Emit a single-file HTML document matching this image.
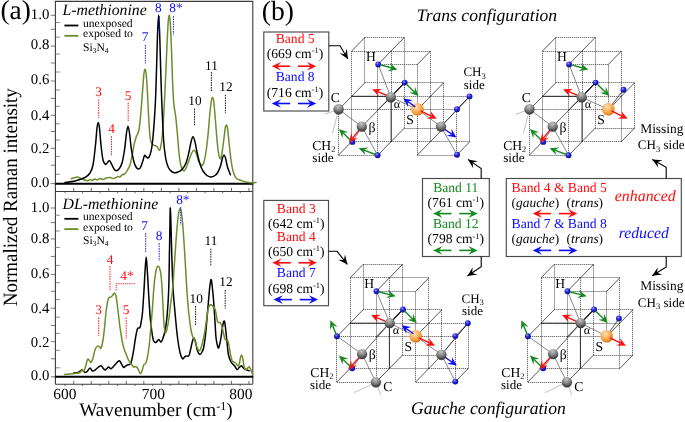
<!DOCTYPE html>
<html><head><meta charset="utf-8"><title>figure</title>
<style>
html,body{margin:0;padding:0;background:#fff;}
body{width:685px;height:422px;overflow:hidden;font-family:"Liberation Serif",serif;}
svg{display:block;font-family:"Liberation Serif",serif;will-change:transform;}
text{text-rendering:geometricPrecision;}
</style></head><body>
<svg width="685" height="422" viewBox="0 0 685 422">
<rect width="685" height="422" fill="#fff"/>
<mask id="mAll"><rect width="685" height="422" fill="#fff"/></mask>
<g mask="url(#mAll)">
<path d="M55.4 384.2 V1.4 H252.8 V384.2" fill="none" stroke="#3a3a3a" stroke-width="1.1"/>
<line x1="55.4" y1="384.2" x2="252.8" y2="384.2" stroke="#3a3a3a" stroke-width="1.1"/>
<line x1="55.4" y1="191.5" x2="252.8" y2="191.5" stroke="#3a3a3a" stroke-width="1"/>
<line x1="54.9" y1="183.75" x2="253.2" y2="183.75" stroke="#000" stroke-width="2"/>
<line x1="54.9" y1="376.8" x2="253.2" y2="376.8" stroke="#000" stroke-width="2"/>
<line x1="50.8" y1="15.3" x2="55.4" y2="15.3" stroke="#555" stroke-width="0.8"/>
<line x1="55.4" y1="22.5" x2="59.8" y2="22.5" stroke="#666" stroke-width="0.8"/>
<line x1="50.8" y1="29.3" x2="55.4" y2="29.3" stroke="#555" stroke-width="0.8"/>
<line x1="55.4" y1="37.1" x2="59.8" y2="37.1" stroke="#666" stroke-width="0.8"/>
<line x1="50.8" y1="46.1" x2="55.4" y2="46.1" stroke="#555" stroke-width="0.8"/>
<line x1="55.4" y1="54" x2="59.8" y2="54" stroke="#666" stroke-width="0.8"/>
<line x1="50.8" y1="63" x2="55.4" y2="63" stroke="#555" stroke-width="0.8"/>
<line x1="55.4" y1="72" x2="59.8" y2="72" stroke="#666" stroke-width="0.8"/>
<line x1="50.8" y1="81" x2="55.4" y2="81" stroke="#555" stroke-width="0.8"/>
<line x1="55.4" y1="90" x2="59.8" y2="90" stroke="#666" stroke-width="0.8"/>
<line x1="50.8" y1="98.4" x2="55.4" y2="98.4" stroke="#555" stroke-width="0.8"/>
<line x1="55.4" y1="106.3" x2="59.8" y2="106.3" stroke="#666" stroke-width="0.8"/>
<line x1="50.8" y1="115.3" x2="55.4" y2="115.3" stroke="#555" stroke-width="0.8"/>
<line x1="55.4" y1="123.8" x2="59.8" y2="123.8" stroke="#666" stroke-width="0.8"/>
<line x1="50.8" y1="131.5" x2="55.4" y2="131.5" stroke="#555" stroke-width="0.8"/>
<line x1="55.4" y1="140" x2="59.8" y2="140" stroke="#666" stroke-width="0.8"/>
<line x1="50.8" y1="148.3" x2="55.4" y2="148.3" stroke="#555" stroke-width="0.8"/>
<line x1="55.4" y1="156.4" x2="59.8" y2="156.4" stroke="#666" stroke-width="0.8"/>
<line x1="50.8" y1="165.2" x2="55.4" y2="165.2" stroke="#555" stroke-width="0.8"/>
<line x1="55.4" y1="174.2" x2="59.8" y2="174.2" stroke="#666" stroke-width="0.8"/>
<line x1="50.8" y1="183.6" x2="55.4" y2="183.6" stroke="#555" stroke-width="0.8"/>
<text x="49.3" y="18.8" font-size="14.8" fill="#000" text-anchor="end">1.0</text>
<text x="49.3" y="48.8" font-size="14.8" fill="#000" text-anchor="end">0.8</text>
<text x="49.3" y="83.8" font-size="14.8" fill="#000" text-anchor="end">0.6</text>
<text x="49.3" y="119.7" font-size="14.8" fill="#000" text-anchor="end">0.4</text>
<text x="49.3" y="153" font-size="14.8" fill="#000" text-anchor="end">0.2</text>
<text x="49.3" y="186.6" font-size="14.8" fill="#000" text-anchor="end">0.0</text>
<line x1="50.8" y1="208" x2="55.4" y2="208" stroke="#555" stroke-width="0.8"/>
<line x1="55.4" y1="215.2" x2="59.8" y2="215.2" stroke="#666" stroke-width="0.8"/>
<line x1="50.8" y1="222.6" x2="55.4" y2="222.6" stroke="#555" stroke-width="0.8"/>
<line x1="55.4" y1="231" x2="59.8" y2="231" stroke="#666" stroke-width="0.8"/>
<line x1="50.8" y1="239" x2="55.4" y2="239" stroke="#555" stroke-width="0.8"/>
<line x1="55.4" y1="247.4" x2="59.8" y2="247.4" stroke="#666" stroke-width="0.8"/>
<line x1="50.8" y1="256.4" x2="55.4" y2="256.4" stroke="#555" stroke-width="0.8"/>
<line x1="55.4" y1="265.4" x2="59.8" y2="265.4" stroke="#666" stroke-width="0.8"/>
<line x1="50.8" y1="274.4" x2="55.4" y2="274.4" stroke="#555" stroke-width="0.8"/>
<line x1="55.4" y1="282.7" x2="59.8" y2="282.7" stroke="#666" stroke-width="0.8"/>
<line x1="50.8" y1="291.3" x2="55.4" y2="291.3" stroke="#555" stroke-width="0.8"/>
<line x1="55.4" y1="299.6" x2="59.8" y2="299.6" stroke="#666" stroke-width="0.8"/>
<line x1="50.8" y1="308.2" x2="55.4" y2="308.2" stroke="#555" stroke-width="0.8"/>
<line x1="55.4" y1="317.2" x2="59.8" y2="317.2" stroke="#666" stroke-width="0.8"/>
<line x1="50.8" y1="325.5" x2="55.4" y2="325.5" stroke="#555" stroke-width="0.8"/>
<line x1="55.4" y1="333.4" x2="59.8" y2="333.4" stroke="#666" stroke-width="0.8"/>
<line x1="50.8" y1="341.7" x2="55.4" y2="341.7" stroke="#555" stroke-width="0.8"/>
<line x1="55.4" y1="350.3" x2="59.8" y2="350.3" stroke="#666" stroke-width="0.8"/>
<line x1="50.8" y1="358.8" x2="55.4" y2="358.8" stroke="#555" stroke-width="0.8"/>
<line x1="55.4" y1="367.8" x2="59.8" y2="367.8" stroke="#666" stroke-width="0.8"/>
<line x1="50.8" y1="376.8" x2="55.4" y2="376.8" stroke="#555" stroke-width="0.8"/>
<text x="49.3" y="212" font-size="14.8" fill="#000" text-anchor="end">1.0</text>
<text x="49.3" y="243.4" font-size="14.8" fill="#000" text-anchor="end">0.8</text>
<text x="49.3" y="278.2" font-size="14.8" fill="#000" text-anchor="end">0.6</text>
<text x="49.3" y="313.1" font-size="14.8" fill="#000" text-anchor="end">0.4</text>
<text x="49.3" y="346.9" font-size="14.8" fill="#000" text-anchor="end">0.2</text>
<text x="49.3" y="380" font-size="14.8" fill="#000" text-anchor="end">0.0</text>
<line x1="65" y1="384.2" x2="65" y2="386" stroke="#444" stroke-width="0.8"/>
<line x1="65" y1="191.5" x2="65" y2="193.3" stroke="#444" stroke-width="0.8"/>
<line x1="73.76" y1="384.2" x2="73.76" y2="381" stroke="#444" stroke-width="0.8"/>
<line x1="73.76" y1="191.5" x2="73.76" y2="187.9" stroke="#444" stroke-width="0.8"/>
<line x1="82.52" y1="384.2" x2="82.52" y2="386" stroke="#444" stroke-width="0.8"/>
<line x1="82.52" y1="191.5" x2="82.52" y2="193.3" stroke="#444" stroke-width="0.8"/>
<line x1="91.28" y1="384.2" x2="91.28" y2="381" stroke="#444" stroke-width="0.8"/>
<line x1="91.28" y1="191.5" x2="91.28" y2="187.9" stroke="#444" stroke-width="0.8"/>
<line x1="100.04" y1="384.2" x2="100.04" y2="386" stroke="#444" stroke-width="0.8"/>
<line x1="100.04" y1="191.5" x2="100.04" y2="193.3" stroke="#444" stroke-width="0.8"/>
<line x1="108.8" y1="384.2" x2="108.8" y2="381" stroke="#444" stroke-width="0.8"/>
<line x1="108.8" y1="191.5" x2="108.8" y2="187.9" stroke="#444" stroke-width="0.8"/>
<line x1="117.56" y1="384.2" x2="117.56" y2="386" stroke="#444" stroke-width="0.8"/>
<line x1="117.56" y1="191.5" x2="117.56" y2="193.3" stroke="#444" stroke-width="0.8"/>
<line x1="126.32" y1="384.2" x2="126.32" y2="381" stroke="#444" stroke-width="0.8"/>
<line x1="126.32" y1="191.5" x2="126.32" y2="187.9" stroke="#444" stroke-width="0.8"/>
<line x1="135.08" y1="384.2" x2="135.08" y2="386" stroke="#444" stroke-width="0.8"/>
<line x1="135.08" y1="191.5" x2="135.08" y2="193.3" stroke="#444" stroke-width="0.8"/>
<line x1="143.84" y1="384.2" x2="143.84" y2="381" stroke="#444" stroke-width="0.8"/>
<line x1="143.84" y1="191.5" x2="143.84" y2="187.9" stroke="#444" stroke-width="0.8"/>
<line x1="152.6" y1="384.2" x2="152.6" y2="386" stroke="#444" stroke-width="0.8"/>
<line x1="152.6" y1="191.5" x2="152.6" y2="193.3" stroke="#444" stroke-width="0.8"/>
<line x1="161.36" y1="384.2" x2="161.36" y2="381" stroke="#444" stroke-width="0.8"/>
<line x1="161.36" y1="191.5" x2="161.36" y2="187.9" stroke="#444" stroke-width="0.8"/>
<line x1="170.12" y1="384.2" x2="170.12" y2="386" stroke="#444" stroke-width="0.8"/>
<line x1="170.12" y1="191.5" x2="170.12" y2="193.3" stroke="#444" stroke-width="0.8"/>
<line x1="178.88" y1="384.2" x2="178.88" y2="381" stroke="#444" stroke-width="0.8"/>
<line x1="178.88" y1="191.5" x2="178.88" y2="187.9" stroke="#444" stroke-width="0.8"/>
<line x1="187.64" y1="384.2" x2="187.64" y2="386" stroke="#444" stroke-width="0.8"/>
<line x1="187.64" y1="191.5" x2="187.64" y2="193.3" stroke="#444" stroke-width="0.8"/>
<line x1="196.4" y1="384.2" x2="196.4" y2="381" stroke="#444" stroke-width="0.8"/>
<line x1="196.4" y1="191.5" x2="196.4" y2="187.9" stroke="#444" stroke-width="0.8"/>
<line x1="205.16" y1="384.2" x2="205.16" y2="386" stroke="#444" stroke-width="0.8"/>
<line x1="205.16" y1="191.5" x2="205.16" y2="193.3" stroke="#444" stroke-width="0.8"/>
<line x1="213.92" y1="384.2" x2="213.92" y2="381" stroke="#444" stroke-width="0.8"/>
<line x1="213.92" y1="191.5" x2="213.92" y2="187.9" stroke="#444" stroke-width="0.8"/>
<line x1="222.68" y1="384.2" x2="222.68" y2="386" stroke="#444" stroke-width="0.8"/>
<line x1="222.68" y1="191.5" x2="222.68" y2="193.3" stroke="#444" stroke-width="0.8"/>
<line x1="231.44" y1="384.2" x2="231.44" y2="381" stroke="#444" stroke-width="0.8"/>
<line x1="231.44" y1="191.5" x2="231.44" y2="187.9" stroke="#444" stroke-width="0.8"/>
<line x1="240.2" y1="384.2" x2="240.2" y2="386" stroke="#444" stroke-width="0.8"/>
<line x1="240.2" y1="191.5" x2="240.2" y2="193.3" stroke="#444" stroke-width="0.8"/>
<line x1="248.96" y1="384.2" x2="248.96" y2="381" stroke="#444" stroke-width="0.8"/>
<line x1="248.96" y1="191.5" x2="248.96" y2="187.9" stroke="#444" stroke-width="0.8"/>
<text x="64.8" y="398.7" font-size="15.4" fill="#000" text-anchor="middle">600</text>
<text x="153.4" y="398.7" font-size="15.4" fill="#000" text-anchor="middle">700</text>
<text x="240.8" y="398.7" font-size="15.4" fill="#000" text-anchor="middle">800</text>
<text x="155.9" y="416.3" font-size="19.3" fill="#000" text-anchor="middle">Wavenumber (cm<tspan font-size="12" dy="-6.8">-1</tspan><tspan dy="6.8">)</tspan></text>
<text transform="translate(17.3 306.2) rotate(-90)" font-size="20.3" textLength="218" lengthAdjust="spacingAndGlyphs">Normalized Raman intensity</text>
<text x="0.5" y="18.9" font-size="27.4" fill="#000" text-anchor="start">(a)</text>
<text x="62.5" y="15.4" font-size="15.8" fill="#000" text-anchor="start" font-style="italic">L-methionine</text>
<line x1="64.4" y1="25.5" x2="78.4" y2="25.5" stroke="#000" stroke-width="1.8"/>
<line x1="64.4" y1="35.8" x2="78.4" y2="35.8" stroke="#6b8e2b" stroke-width="1.8"/>
<text x="83" y="27" font-size="11.6" fill="#000" text-anchor="start">unexposed</text>
<text x="83" y="37.2" font-size="11.6" fill="#000" text-anchor="start">exposed to</text>
<text x="83" y="50.5" font-size="11.6" fill="#000" text-anchor="start">Si<tspan font-size="7.5" dy="2.2">3</tspan><tspan dy="-2.2">N</tspan><tspan font-size="7.5" dy="2.2">4</tspan></text>
<text x="62.5" y="208.7" font-size="15.8" fill="#000" text-anchor="start" font-style="italic">DL-methionine</text>
<line x1="64.4" y1="218.8" x2="78.4" y2="218.8" stroke="#000" stroke-width="1.8"/>
<line x1="64.4" y1="229.1" x2="78.4" y2="229.1" stroke="#6b8e2b" stroke-width="1.8"/>
<text x="83" y="220.3" font-size="11.6" fill="#000" text-anchor="start">unexposed</text>
<text x="83" y="230.5" font-size="11.6" fill="#000" text-anchor="start">exposed to</text>
<text x="83" y="243.8" font-size="11.6" fill="#000" text-anchor="start">Si<tspan font-size="7.5" dy="2.2">3</tspan><tspan dy="-2.2">N</tspan><tspan font-size="7.5" dy="2.2">4</tspan></text>
<path d="M71.2 178.7C71.67 178.55 72.95 178.08 74 177.8C75.05 177.52 76.5 176.97 77.5 177C78.5 177.03 79.08 177.58 80 178C80.92 178.42 81.75 179.05 83 179.5C84.25 179.95 86.33 180.7 87.5 180.7C88.67 180.7 89.25 179.53 90 179.5C90.75 179.47 91.17 180.58 92 180.5C92.83 180.42 94.17 179.08 95 179C95.83 178.92 96.17 180.08 97 180C97.83 179.92 99 178.58 100 178.5C101 178.42 102 179.58 103 179.5C104 179.42 104.83 178.33 106 178C107.17 177.67 108.83 177.42 110 177.5C111.17 177.58 112.17 178.42 113 178.5C113.83 178.58 114.17 178.33 115 178C115.83 177.67 117.17 176.67 118 176.5C118.83 176.33 119.33 177.25 120 177C120.67 176.75 121.17 175.55 122 175C122.83 174.45 124.17 174.37 125 173.7C125.83 173.03 126.17 172.45 127 171C127.83 169.55 129.17 167.5 130 165C130.83 162.5 131.33 159.33 132 156C132.67 152.67 133.33 148.08 134 145C134.67 141.92 135.22 139.83 136 137.5C136.78 135.17 138.03 133.58 138.7 131C139.37 128.42 139.53 126.33 140 122C140.47 117.67 141 111.17 141.5 105C142 98.83 142.58 90.33 143 85C143.42 79.67 143.67 75.62 144 73C144.33 70.38 144.67 69.3 145 69.3C145.33 69.3 145.67 70.38 146 73C146.33 75.62 146.55 77.58 147 85C147.45 92.42 148.2 108.83 148.7 117.5C149.2 126.17 149.53 132.75 150 137C150.47 141.25 151 141.75 151.5 143C152 144.25 152.42 144.05 153 144.5C153.58 144.95 154.33 145.37 155 145.7C155.67 146.03 156.33 145.78 157 146.5C157.67 147.22 158.42 149.75 159 150C159.58 150.25 159.93 150.5 160.5 148C161.07 145.5 161.82 141.33 162.4 135C162.98 128.67 163.48 119.17 164 110C164.52 100.83 165 90.83 165.5 80C166 69.17 166.55 54.67 167 45C167.45 35.33 167.83 27 168.2 22C168.57 17 168.87 15 169.2 15C169.53 15 169.82 16.17 170.2 22C170.58 27.83 171.12 40.33 171.5 50C171.88 59.67 172.17 71.67 172.5 80C172.83 88.33 173.2 95.33 173.5 100C173.8 104.67 174.02 105.83 174.3 108C174.58 110.17 174.92 111.17 175.2 113C175.48 114.83 175.62 115.33 176 119C176.38 122.67 177 129.33 177.5 135C178 140.67 178.5 148.17 179 153C179.5 157.83 180 161.42 180.5 164C181 166.58 181.42 167.33 182 168.5C182.58 169.67 183.33 171.08 184 171C184.67 170.92 185.33 169.33 186 168C186.67 166.67 187.33 164.75 188 163C188.67 161.25 189.33 159.25 190 157.5C190.67 155.75 191.33 153.7 192 152.5C192.67 151.3 193.33 150.22 194 150.3C194.67 150.38 195.25 151.22 196 153C196.75 154.78 197.75 159.08 198.5 161C199.25 162.92 199.88 163.78 200.5 164.5C201.12 165.22 201.62 165.72 202.2 165.3C202.78 164.88 203.37 164.22 204 162C204.63 159.78 205.33 156.5 206 152C206.67 147.5 207.33 141.67 208 135C208.67 128.33 209.42 117.83 210 112C210.58 106.17 211.1 102.42 211.5 100C211.9 97.58 212.07 97.5 212.4 97.5C212.73 97.5 213.07 97.08 213.5 100C213.93 102.92 214.42 108.33 215 115C215.58 121.67 216.42 133.67 217 140C217.58 146.33 218 149.92 218.5 153C219 156.08 219.5 158 220 158.5C220.5 159 220.92 158.75 221.5 156C222.08 153.25 222.87 146.67 223.5 142C224.13 137.33 224.82 130.83 225.3 128C225.78 125.17 226.03 125 226.4 125C226.77 125 227.07 125.17 227.5 128C227.93 130.83 228.42 136.67 229 142C229.58 147.33 230.33 155.17 231 160C231.67 164.83 232.33 168.3 233 171C233.67 173.7 234.33 174.9 235 176.2C235.67 177.5 236 178.1 237 178.8C238 179.5 239.67 179.9 241 180.4C242.33 180.9 243.67 181.43 245 181.8C246.33 182.17 247.67 182.43 249 182.6C250.33 182.77 251.83 182.83 253 182.8C254.17 182.77 255.5 182.47 256 182.4" fill="none" stroke="#6b8e2b" stroke-width="1.5" stroke-linejoin="round" stroke-linecap="round"/>
<path d="M65 182.5C66.67 182.25 71.67 181.83 75 181C78.33 180.17 82.5 178.83 85 177.5C87.5 176.17 88.67 175.08 90 173C91.33 170.92 92.08 169.67 93 165C93.92 160.33 94.83 151.17 95.5 145C96.17 138.83 96.55 131.75 97 128C97.45 124.25 97.78 122.5 98.2 122.5C98.62 122.5 99.03 124.25 99.5 128C99.97 131.75 100.42 139.67 101 145C101.58 150.33 102.25 156.75 103 160C103.75 163.25 104.75 164.08 105.5 164.5C106.25 164.92 106.83 163.13 107.5 162.5C108.17 161.87 108.75 160.28 109.5 160.7C110.25 161.12 111.25 163.62 112 165C112.75 166.38 113.3 168.05 114 169C114.7 169.95 115.37 170.7 116.2 170.7C117.03 170.7 118.03 170.28 119 169C119.97 167.72 121.08 166.17 122 163C122.92 159.83 123.75 155 124.5 150C125.25 145 125.92 136.97 126.5 133C127.08 129.03 127.5 126.2 128 126.2C128.5 126.2 128.92 129.03 129.5 133C130.08 136.97 130.75 145.17 131.5 150C132.25 154.83 133.25 159.17 134 162C134.75 164.83 135.25 165.83 136 167C136.75 168.17 137.75 168.92 138.5 169C139.25 169.08 139.83 168.67 140.5 167.5C141.17 166.33 141.83 163.97 142.5 162C143.17 160.03 143.92 156.62 144.5 155.7C145.08 154.78 145.42 156.12 146 156.5C146.58 156.88 147.33 158.25 148 158C148.67 157.75 149.33 157 150 155C150.67 153 151.33 151 152 146C152.67 141 153.42 132.67 154 125C154.58 117.33 155.08 109.17 155.5 100C155.92 90.83 156.17 80.83 156.5 70C156.83 59.17 157.15 44.17 157.5 35C157.85 25.83 158.23 15 158.6 15C158.97 15 159.35 25.83 159.7 35C160.05 44.17 160.37 59.17 160.7 70C161.03 80.83 161.22 88.33 161.7 100C162.18 111.67 162.97 130.5 163.6 140C164.23 149.5 164.87 152.83 165.5 157C166.13 161.17 166.65 162.83 167.4 165C168.15 167.17 168.9 168.72 170 170C171.1 171.28 172.67 172.37 174 172.7C175.33 173.03 176.67 172.53 178 172C179.33 171.47 180.67 171 182 169.5C183.33 168 184.83 165.92 186 163C187.17 160.08 188.17 155.5 189 152C189.83 148.5 190.33 144.55 191 142C191.67 139.45 192.33 136.7 193 136.7C193.67 136.7 194.33 139.45 195 142C195.67 144.55 196.17 148.33 197 152C197.83 155.67 199 160.83 200 164C201 167.17 201.83 169.08 203 171C204.17 172.92 205.67 174.5 207 175.5C208.33 176.5 209.67 177 211 177C212.33 177 213.83 176.33 215 175.5C216.17 174.67 217.08 173.58 218 172C218.92 170.42 219.75 168.33 220.5 166C221.25 163.67 221.92 159.83 222.5 158C223.08 156.17 223.5 155 224 155C224.5 155 224.92 156 225.5 158C226.08 160 226.68 164.22 227.5 167C228.32 169.78 229.92 173.42 230.4 174.7" fill="none" stroke="#000" stroke-width="1.5" stroke-linejoin="round" stroke-linecap="round"/>
<path d="M73.7 373C74.42 372.92 76.62 373 78 372.5C79.38 372 80.83 370 82 370C83.17 370 84.08 372.33 85 372.5C85.92 372.67 86.67 371.75 87.5 371C88.33 370.25 89.17 368 90 368C90.83 368 91.67 370.67 92.5 371C93.33 371.33 94.08 370.58 95 370C95.92 369.42 97 368.22 98 367.5C99 366.78 100.17 365.62 101 365.7C101.83 365.78 102.33 367.28 103 368C103.67 368.72 104.33 369.92 105 370C105.67 370.08 106.38 369 107 368.5C107.62 368 108.03 366.97 108.7 367C109.37 367.03 110.12 368.87 111 368.7C111.88 368.53 113 367.03 114 366C115 364.97 116.08 363.38 117 362.5C117.92 361.62 118.75 360.45 119.5 360.7C120.25 360.95 120.8 362.87 121.5 364C122.2 365.13 123.03 367.17 123.7 367.5C124.37 367.83 124.87 366.42 125.5 366C126.13 365.58 126.67 365.38 127.5 365C128.33 364.62 129.75 364.7 130.5 363.7C131.25 362.7 131.47 361.28 132 359C132.53 356.72 133.12 353.5 133.7 350C134.28 346.5 134.87 341.55 135.5 338C136.13 334.45 136.75 330.45 137.5 328.7C138.25 326.95 139.33 328.95 140 327.5C140.67 326.05 141.08 322.5 141.5 320C141.92 317.5 142.08 317.5 142.5 312.5C142.92 307.5 143.58 296.75 144 290C144.42 283.25 144.63 277.5 145 272C145.37 266.5 145.8 257 146.2 257C146.6 257 146.98 265.67 147.4 272C147.82 278.33 148.27 287.83 148.7 295C149.13 302.17 149.62 310 150 315C150.38 320 150.58 321.5 151 325C151.42 328.5 152.05 333.33 152.5 336C152.95 338.67 153.12 339.92 153.7 341C154.28 342.08 155.17 342.75 156 342.5C156.83 342.25 157.87 339.58 158.7 339.5C159.53 339.42 160.28 342.25 161 342C161.72 341.75 162.33 339.83 163 338C163.67 336.17 164.33 334.5 165 331C165.67 327.5 166.38 323.83 167 317C167.62 310.17 168.28 301.17 168.7 290C169.12 278.83 169.28 261.67 169.5 250C169.72 238.33 169.87 227 170 220C170.13 213 170.13 207.17 170.3 208C170.47 208.83 170.75 217.17 171 225C171.25 232.83 171.47 244.58 171.8 255C172.13 265.42 172.47 277.92 173 287.5C173.53 297.08 174.25 304.17 175 312.5C175.75 320.83 176.67 330.83 177.5 337.5C178.33 344.17 179.17 348.97 180 352.5C180.83 356.03 181.75 357.95 182.5 358.7C183.25 359.45 183.92 357.45 184.5 357C185.08 356.55 185.3 356.17 186 356C186.7 355.83 188.03 356.67 188.7 356C189.37 355.33 189.62 353.42 190 352C190.38 350.58 190.58 349.33 191 347.5C191.42 345.67 192 342.58 192.5 341C193 339.42 193.5 337.83 194 338C194.5 338.17 194.92 339.83 195.5 342C196.08 344.17 196.75 348.92 197.5 351C198.25 353.08 199.25 354.33 200 354.5C200.75 354.67 201.38 353.17 202 352C202.62 350.83 203.12 350.33 203.7 347.5C204.28 344.67 204.87 340.83 205.5 335C206.13 329.17 206.92 319.17 207.5 312.5C208.08 305.83 208.58 299.58 209 295C209.42 290.42 209.63 287.58 210 285C210.37 282.42 210.82 279.17 211.2 279.5C211.58 279.83 211.88 283.25 212.3 287C212.72 290.75 213.25 296.17 213.7 302C214.15 307.83 214.62 316.08 215 322C215.38 327.92 215.62 333.67 216 337.5C216.38 341.33 216.88 343.25 217.3 345C217.72 346.75 218.05 348.33 218.5 348C218.95 347.67 219.58 344.75 220 343C220.42 341.25 220.58 340.17 221 337.5C221.42 334.83 222 329.75 222.5 327C223 324.25 223.58 321.5 224 321C224.42 320.5 224.67 322.08 225 324C225.33 325.92 225.62 329 226 332.5C226.38 336 226.88 341.25 227.3 345C227.72 348.75 227.88 352.17 228.5 355C229.12 357.83 229.97 360.17 231 362C232.03 363.83 233.7 364.75 234.7 366C235.7 367.25 236.28 369.2 237 369.5C237.72 369.8 238.28 368.42 239 367.8C239.72 367.18 240.63 365.83 241.3 365.8C241.97 365.77 242.42 367.05 243 367.6C243.58 368.15 244.13 368.7 244.8 369.1C245.47 369.5 246.28 369.72 247 370C247.72 370.28 248.75 370.67 249.1 370.8" fill="none" stroke="#000" stroke-width="1.5" stroke-linejoin="round" stroke-linecap="round"/>
<path d="M64.5 374.5C65.42 374.42 68.25 374.17 70 374C71.75 373.83 73.33 373.75 75 373.5C76.67 373.25 78.83 373.17 80 372.5C81.17 371.83 81.38 369.75 82 369.5C82.62 369.25 83.12 371.42 83.7 371C84.28 370.58 84.87 368.92 85.5 367C86.13 365.08 86.83 360.58 87.5 359.5C88.17 358.42 88.92 360 89.5 360.5C90.08 361 90.42 362.92 91 362.5C91.58 362.08 92.33 360.08 93 358C93.67 355.92 94.25 352 95 350C95.75 348 96.75 346.5 97.5 346C98.25 345.5 98.92 346.67 99.5 347C100.08 347.33 100.42 349.17 101 348C101.58 346.83 102.42 343.33 103 340C103.58 336.67 104 332.58 104.5 328C105 323.42 105.5 316.83 106 312.5C106.5 308.17 107.05 304.42 107.5 302C107.95 299.58 108.28 298.8 108.7 298C109.12 297.2 109.62 297.37 110 297.2C110.38 297.03 110.58 297.28 111 297C111.42 296.72 111.92 296.17 112.5 295.5C113.08 294.83 113.92 292.92 114.5 293C115.08 293.08 115.58 294.42 116 296C116.42 297.58 116.58 299.33 117 302.5C117.42 305.67 118 310.83 118.5 315C119 319.17 119.5 323.83 120 327.5C120.5 331.17 121 334.08 121.5 337C122 339.92 122.5 342.83 123 345C123.5 347.17 124 348.55 124.5 350C125 351.45 125.42 352.2 126 353.7C126.58 355.2 127.33 357.53 128 359C128.67 360.47 129.33 361.5 130 362.5C130.67 363.5 131.38 364.25 132 365C132.62 365.75 133.12 366.75 133.7 367C134.28 367.25 134.87 366.33 135.5 366.5C136.13 366.67 136.92 367.25 137.5 368C138.08 368.75 138.5 370.05 139 371C139.5 371.95 140 373.7 140.5 373.7C141 373.7 141.47 372.45 142 371C142.53 369.55 143.2 366.17 143.7 365C144.2 363.83 144.62 364.42 145 364C145.38 363.58 145.58 363.67 146 362.5C146.42 361.33 147 359.58 147.5 357C148 354.42 148.58 350.25 149 347C149.42 343.75 149.62 341.67 150 337.5C150.38 333.33 150.88 327 151.3 322C151.72 317 152.1 312.83 152.5 307.5C152.9 302.17 153.28 295.08 153.7 290C154.12 284.92 154.53 280.58 155 277C155.47 273.42 156 270.3 156.5 268.5C157 266.7 157.5 266.28 158 266.2C158.5 266.12 159 266.53 159.5 268C160 269.47 160.53 271 161 275C161.47 279 161.85 284.5 162.3 292C162.75 299.5 163.3 313.67 163.7 320C164.1 326.33 164.4 327.83 164.7 330C165 332.17 165.15 333 165.5 333C165.85 333 166.27 332.17 166.8 330C167.33 327.83 168.08 324.17 168.7 320C169.32 315.83 169.87 310 170.5 305C171.13 300 171.92 295.83 172.5 290C173.08 284.17 173.5 277 174 270C174.5 263 175 255 175.5 248C176 241 176.5 233.67 177 228C177.5 222.33 178 217.22 178.5 214C179 210.78 179.5 208.87 180 208.7C180.5 208.53 181 209.78 181.5 213C182 216.22 182.5 221.83 183 228C183.5 234.17 184 242.17 184.5 250C185 257.83 185.58 268 186 275C186.42 282 186.67 287 187 292C187.33 297 187.58 300.5 188 305C188.42 309.5 189 314.83 189.5 319C190 323.17 190.5 327.17 191 330C191.5 332.83 191.92 334.33 192.5 336C193.08 337.67 193.83 338.33 194.5 340C195.17 341.67 195.75 344.22 196.5 346C197.25 347.78 198.25 350.37 199 350.7C199.75 351.03 200.22 350.2 201 348C201.78 345.8 202.95 341 203.7 337.5C204.45 334 204.87 331.17 205.5 327C206.13 322.83 206.92 315.92 207.5 312.5C208.08 309.08 208.5 307.83 209 306.5C209.5 305.17 210 304.67 210.5 304.5C211 304.33 211.5 305.08 212 305.5C212.5 305.92 213 306.42 213.5 307C214 307.58 214.53 307.67 215 309C215.47 310.33 215.92 313 216.3 315C216.68 317 216.93 319.75 217.3 321C217.67 322.25 218.08 322.25 218.5 322.5C218.92 322.75 219.38 322.25 219.8 322.5C220.22 322.75 220.6 323.17 221 324C221.4 324.83 221.78 326 222.2 327.5C222.62 329 223.08 331.13 223.5 333C223.92 334.87 224.28 337.53 224.7 338.7C225.12 339.87 225.5 339.7 226 340C226.5 340.3 227.25 339.83 227.7 340.5C228.15 341.17 228.37 342.42 228.7 344C229.03 345.58 229.32 347.83 229.7 350C230.08 352.17 230.58 355.17 231 357C231.42 358.83 231.75 360.17 232.2 361C232.65 361.83 233.2 361.75 233.7 362C234.2 362.25 234.68 362.08 235.2 362.5C235.72 362.92 236.27 363.92 236.8 364.5C237.33 365.08 237.95 366.25 238.4 366C238.85 365.75 239.15 364.42 239.5 363C239.85 361.58 240.15 358.83 240.5 357.5C240.85 356.17 241.23 354.92 241.6 355C241.97 355.08 242.3 356.17 242.7 358C243.1 359.83 243.53 364.08 244 366C244.47 367.92 245 369.03 245.5 369.5C246 369.97 246.53 369.18 247 368.8C247.47 368.42 247.92 367.53 248.3 367.2C248.68 366.87 248.93 366.5 249.3 366.8C249.67 367.1 250.13 368.22 250.5 369C250.87 369.78 251.15 370.67 251.5 371.5C251.85 372.33 252.42 373.58 252.6 374" fill="none" stroke="#6b8e2b" stroke-width="1.5" stroke-linejoin="round" stroke-linecap="round"/>
<text x="98.7" y="96" font-size="13.3" fill="#ff0c0c" text-anchor="middle">3</text>
<line x1="98.7" y1="99.5" x2="98.7" y2="118" stroke="#ff0c0c" stroke-width="0.9" stroke-dasharray="1.6 0.9"/>
<text x="111.5" y="132.7" font-size="13.3" fill="#ff0c0c" text-anchor="middle">4</text>
<line x1="111.5" y1="136" x2="111.5" y2="155.5" stroke="#ff0c0c" stroke-width="0.9" stroke-dasharray="1.6 0.9"/>
<text x="128.2" y="99.5" font-size="13.3" fill="#ff0c0c" text-anchor="middle">5</text>
<line x1="128.2" y1="102.5" x2="128.2" y2="121" stroke="#ff0c0c" stroke-width="0.9" stroke-dasharray="1.6 0.9"/>
<text x="145" y="41.4" font-size="13.3" fill="#0c0cfa" text-anchor="middle">7</text>
<line x1="145.4" y1="45" x2="145.4" y2="63.5" stroke="#0c0cfa" stroke-width="0.9" stroke-dasharray="1.6 0.9"/>
<text x="158.3" y="12.2" font-size="13.3" fill="#0c0cfa" text-anchor="middle">8</text>
<line x1="159.5" y1="16" x2="159.5" y2="34" stroke="#0c0cfa" stroke-width="0.9" stroke-dasharray="1.6 0.9"/>
<text x="176" y="12.2" font-size="13.3" fill="#0c0cfa" text-anchor="middle">8*</text>
<line x1="173.4" y1="16.1" x2="173.4" y2="34.6" stroke="#0c0cfa" stroke-width="0.9" stroke-dasharray="1.6 0.9"/>
<text x="195" y="104.5" font-size="13.3" fill="#000" text-anchor="middle">10</text>
<line x1="194.5" y1="108.7" x2="194.5" y2="126" stroke="#000" stroke-width="0.9" stroke-dasharray="1.6 0.9"/>
<text x="211.4" y="70" font-size="13.3" fill="#000" text-anchor="middle">11</text>
<line x1="211.4" y1="72" x2="211.4" y2="92" stroke="#000" stroke-width="0.9" stroke-dasharray="1.6 0.9"/>
<text x="226" y="91" font-size="13.3" fill="#000" text-anchor="middle">12</text>
<line x1="225.4" y1="94.8" x2="225.4" y2="113.3" stroke="#000" stroke-width="0.9" stroke-dasharray="1.6 0.9"/>
<text x="98.7" y="313.5" font-size="13.3" fill="#ff0c0c" text-anchor="middle">3</text>
<line x1="98.7" y1="317.5" x2="98.7" y2="336" stroke="#ff0c0c" stroke-width="0.9" stroke-dasharray="1.6 0.9"/>
<text x="110" y="264" font-size="13.3" fill="#ff0c0c" text-anchor="middle">4</text>
<line x1="110" y1="266" x2="110" y2="291" stroke="#ff0c0c" stroke-width="0.9" stroke-dasharray="1.6 0.9"/>
<text x="126.2" y="313.5" font-size="13.3" fill="#ff0c0c" text-anchor="middle">5</text>
<line x1="126.2" y1="317.5" x2="126.2" y2="338.7" stroke="#ff0c0c" stroke-width="0.9" stroke-dasharray="1.6 0.9"/>
<text x="127" y="279.7" font-size="13.3" fill="#ff0c0c" text-anchor="middle">4*</text>
<path d="M116.2 290.5 V283.7 H135" fill="none" stroke="#ff0c0c" stroke-width="0.9" stroke-dasharray="1.3 0.9"/>
<text x="144.5" y="230.2" font-size="13.3" fill="#0c0cfa" text-anchor="middle">7</text>
<line x1="145.7" y1="233" x2="145.7" y2="252" stroke="#0c0cfa" stroke-width="0.9" stroke-dasharray="1.6 0.9"/>
<text x="159.2" y="239.7" font-size="13.3" fill="#0c0cfa" text-anchor="middle">8</text>
<line x1="159.2" y1="243" x2="159.2" y2="261" stroke="#0c0cfa" stroke-width="0.9" stroke-dasharray="1.6 0.9"/>
<text x="182.8" y="203.5" font-size="13.3" fill="#0c0cfa" text-anchor="middle">8*</text>
<line x1="180.7" y1="207" x2="180.7" y2="225" stroke="#0c0cfa" stroke-width="0.9" stroke-dasharray="1.6 0.9"/>
<text x="196.2" y="302.7" font-size="13.3" fill="#000" text-anchor="middle">10</text>
<line x1="195.6" y1="306" x2="195.6" y2="325" stroke="#000" stroke-width="0.9" stroke-dasharray="1.6 0.9"/>
<text x="211" y="244.6" font-size="13.3" fill="#000" text-anchor="middle">11</text>
<line x1="210.8" y1="248.7" x2="210.8" y2="266" stroke="#000" stroke-width="0.9" stroke-dasharray="1.6 0.9"/>
<text x="226" y="286.3" font-size="13.3" fill="#000" text-anchor="middle">12</text>
<line x1="225.2" y1="290" x2="225.2" y2="308.5" stroke="#000" stroke-width="0.9" stroke-dasharray="1.6 0.9"/>
<defs>
<radialGradient id="gGray" cx="0.45" cy="0.22" r="0.85"><stop offset="0" stop-color="#c4c4c4"/><stop offset="0.4" stop-color="#8c8c8c"/><stop offset="0.75" stop-color="#4e4e4e"/><stop offset="1" stop-color="#262626"/></radialGradient>
<radialGradient id="gBlue" cx="0.38" cy="0.32" r="0.7"><stop offset="0" stop-color="#9aa0ff"/><stop offset="0.4" stop-color="#2a2ae0"/><stop offset="1" stop-color="#0a0a90"/></radialGradient>
<radialGradient id="gOr" cx="0.4" cy="0.32" r="0.72"><stop offset="0" stop-color="#ffe2b8"/><stop offset="0.45" stop-color="#fbb562"/><stop offset="0.82" stop-color="#ec8c28"/><stop offset="1" stop-color="#b8600c"/></radialGradient>
</defs>
<text x="261.7" y="19.9" font-size="27.6" fill="#000" text-anchor="start">(b)</text>
<text x="487" y="20.6" font-size="17.6" fill="#000" text-anchor="middle" font-style="italic">Trans configuration</text>
<text x="488.4" y="413.7" font-size="17.6" fill="#000" text-anchor="middle" font-style="italic">Gauche configuration</text>
<rect x="263.8" y="32" width="65" height="79" fill="#fff" stroke="#4a4a4a" stroke-width="1.15"/>
<text x="295.2" y="42.5" font-size="13.6" fill="#ff0c0c" text-anchor="middle">Band 5</text>
<text x="295" y="57.8" font-size="13.6" fill="#000" text-anchor="middle">(669 cm<tspan font-size="8.4" dy="-4.8">-1</tspan><tspan dy="4.8">)</tspan></text>
<line x1="290.1" y1="66.2" x2="277.47" y2="66.2" stroke="#ff0c0c" stroke-width="1.6"/>
<path d="M271.7 66.2 L281 61.9 L277.47 66.2 L281 70.5 Z" fill="#ff0c0c"/>
<line x1="297.9" y1="66.2" x2="310.53" y2="66.2" stroke="#ff0c0c" stroke-width="1.6"/>
<path d="M316.3 66.2 L307 70.5 L310.53 66.2 L307 61.9 Z" fill="#ff0c0c"/>
<text x="295.2" y="81.4" font-size="13.6" fill="#0c0cfa" text-anchor="middle">Band 8</text>
<text x="295" y="96.5" font-size="13.6" fill="#000" text-anchor="middle">(716 cm<tspan font-size="8.4" dy="-4.8">-1</tspan><tspan dy="4.8">)</tspan></text>
<line x1="290.1" y1="103.5" x2="277.47" y2="103.5" stroke="#0c0cfa" stroke-width="1.6"/>
<path d="M271.7 103.5 L281 99.2 L277.47 103.5 L281 107.8 Z" fill="#0c0cfa"/>
<line x1="297.9" y1="103.5" x2="310.53" y2="103.5" stroke="#0c0cfa" stroke-width="1.6"/>
<path d="M316.3 103.5 L307 107.8 L310.53 103.5 L307 99.2 Z" fill="#0c0cfa"/>
<rect x="263.8" y="200.4" width="64.7" height="105.3" fill="#fff" stroke="#4a4a4a" stroke-width="1.15"/>
<text x="296.3" y="213" font-size="13.6" fill="#ff0c0c" text-anchor="middle">Band 3</text>
<text x="296.3" y="227.8" font-size="13.6" fill="#000" text-anchor="middle">(642 cm<tspan font-size="8.4" dy="-4.8">-1</tspan><tspan dy="4.8">)</tspan></text>
<text x="296.3" y="240.9" font-size="13.6" fill="#ff0c0c" text-anchor="middle">Band 4</text>
<text x="296.3" y="255.8" font-size="13.6" fill="#000" text-anchor="middle">(650 cm<tspan font-size="8.4" dy="-4.8">-1</tspan><tspan dy="4.8">)</tspan></text>
<line x1="290.7" y1="262.8" x2="278.07" y2="262.8" stroke="#ff0c0c" stroke-width="1.6"/>
<path d="M272.3 262.8 L281.6 258.5 L278.07 262.8 L281.6 267.1 Z" fill="#ff0c0c"/>
<line x1="298.5" y1="262.8" x2="311.13" y2="262.8" stroke="#ff0c0c" stroke-width="1.6"/>
<path d="M316.9 262.8 L307.6 267.1 L311.13 262.8 L307.6 258.5 Z" fill="#ff0c0c"/>
<text x="296.3" y="277.2" font-size="13.6" fill="#0c0cfa" text-anchor="middle">Band 7</text>
<text x="296.3" y="292.5" font-size="13.6" fill="#000" text-anchor="middle">(698 cm<tspan font-size="8.4" dy="-4.8">-1</tspan><tspan dy="4.8">)</tspan></text>
<line x1="291.9" y1="299.6" x2="279.27" y2="299.6" stroke="#0c0cfa" stroke-width="1.6"/>
<path d="M273.5 299.6 L282.8 295.3 L279.27 299.6 L282.8 303.9 Z" fill="#0c0cfa"/>
<line x1="299.7" y1="299.6" x2="312.33" y2="299.6" stroke="#0c0cfa" stroke-width="1.6"/>
<path d="M318.1 299.6 L308.8 303.9 L312.33 299.6 L308.8 295.3 Z" fill="#0c0cfa"/>
<rect x="422.5" y="178.5" width="66.8" height="78" fill="#fff" stroke="#4a4a4a" stroke-width="1.15"/>
<text x="455.8" y="191.7" font-size="13.6" fill="#168a1e" text-anchor="middle">Band 11</text>
<text x="455.8" y="207" font-size="13.6" fill="#000" text-anchor="middle">(761 cm<tspan font-size="8.4" dy="-4.8">-1</tspan><tspan dy="4.8">)</tspan></text>
<line x1="451.5" y1="213.6" x2="438.87" y2="213.6" stroke="#168a1e" stroke-width="1.6"/>
<path d="M433.1 213.6 L442.4 209.3 L438.87 213.6 L442.4 217.9 Z" fill="#168a1e"/>
<line x1="459.3" y1="213.6" x2="471.93" y2="213.6" stroke="#168a1e" stroke-width="1.6"/>
<path d="M477.7 213.6 L468.4 217.9 L471.93 213.6 L468.4 209.3 Z" fill="#168a1e"/>
<text x="455.8" y="228.4" font-size="13.6" fill="#168a1e" text-anchor="middle">Band 12</text>
<text x="455.8" y="243.4" font-size="13.6" fill="#000" text-anchor="middle">(798 cm<tspan font-size="8.4" dy="-4.8">-1</tspan><tspan dy="4.8">)</tspan></text>
<line x1="451.5" y1="250.4" x2="438.87" y2="250.4" stroke="#168a1e" stroke-width="1.6"/>
<path d="M433.1 250.4 L442.4 246.1 L438.87 250.4 L442.4 254.7 Z" fill="#168a1e"/>
<line x1="459.3" y1="250.4" x2="471.93" y2="250.4" stroke="#168a1e" stroke-width="1.6"/>
<path d="M477.7 250.4 L468.4 254.7 L471.93 250.4 L468.4 246.1 Z" fill="#168a1e"/>
<rect x="506.3" y="178.5" width="175" height="78" fill="#fff" stroke="#4a4a4a" stroke-width="1.15"/>
<text x="511.6" y="191.7" font-size="13.6" fill="#ff0c0c" text-anchor="start">Band 4 &amp; Band 5</text>
<text x="511.6" y="207" font-size="13.4" fill="#000" text-anchor="start">(<tspan font-style="italic">gauche</tspan>)</text>
<text x="566.6" y="207" font-size="13.4" fill="#000" text-anchor="start">(<tspan font-style="italic">trans</tspan>)</text>
<line x1="551.1" y1="213.6" x2="538.47" y2="213.6" stroke="#ff0c0c" stroke-width="1.6"/>
<path d="M532.7 213.6 L542 209.3 L538.47 213.6 L542 217.9 Z" fill="#ff0c0c"/>
<line x1="558.9" y1="213.6" x2="571.53" y2="213.6" stroke="#ff0c0c" stroke-width="1.6"/>
<path d="M577.3 213.6 L568 217.9 L571.53 213.6 L568 209.3 Z" fill="#ff0c0c"/>
<text x="511.6" y="228.4" font-size="13.6" fill="#0c0cfa" text-anchor="start">Band 7 &amp; Band 8</text>
<text x="511.6" y="243.4" font-size="13.4" fill="#000" text-anchor="start">(<tspan font-style="italic">gauche</tspan>)</text>
<text x="566.6" y="243.4" font-size="13.4" fill="#000" text-anchor="start">(<tspan font-style="italic">trans</tspan>)</text>
<line x1="551.1" y1="250.4" x2="538.47" y2="250.4" stroke="#0c0cfa" stroke-width="1.6"/>
<path d="M532.7 250.4 L542 246.1 L538.47 250.4 L542 254.7 Z" fill="#0c0cfa"/>
<line x1="558.9" y1="250.4" x2="571.53" y2="250.4" stroke="#0c0cfa" stroke-width="1.6"/>
<path d="M577.3 250.4 L568 254.7 L571.53 250.4 L568 246.1 Z" fill="#0c0cfa"/>
<text x="645.2" y="200.9" font-size="15.9" fill="#ff0c0c" text-anchor="middle" font-style="italic">enhanced</text>
<text x="643.8" y="238.1" font-size="15.8" fill="#0c0cfa" text-anchor="middle" font-style="italic">reduced</text>
<path d="M328.8 45.7 L340 45.7 L347.9 59" fill="none" stroke="#000" stroke-width="1.1"/>
<path d="M347.9 59 L339.45 53.2 L345.05 54.2 L346.85 48.81 Z" fill="#000"/>
<path d="M328.5 251.3 L337 251.3 L347.4 264.4" fill="none" stroke="#000" stroke-width="1.1"/>
<path d="M347.4 264.4 L338.25 259.79 L343.93 260.03 L344.99 254.44 Z" fill="#000"/>
<path d="M481.2 178.5 L481.2 168.6 L468 159.4" fill="none" stroke="#000" stroke-width="1.1"/>
<path d="M468 159.4 L478.09 161.19 L472.58 162.59 L473.17 168.25 Z" fill="#000"/>
<path d="M481.2 256.5 L481.2 266.8 L467.4 276" fill="none" stroke="#000" stroke-width="1.1"/>
<path d="M467.4 276 L472.75 267.26 L472.04 272.9 L477.52 274.42 Z" fill="#000"/>
<path d="M666.2 178.5 L666.2 167.2 L652.3 159.5" fill="none" stroke="#000" stroke-width="1.1"/>
<path d="M652.3 159.5 L662.52 160.25 L657.18 162.2 L658.35 167.77 Z" fill="#000"/>
<path d="M666.2 256.5 L666.2 267 L652.2 275.8" fill="none" stroke="#000" stroke-width="1.1"/>
<path d="M652.2 275.8 L657.79 267.21 L656.92 272.83 L662.36 274.49 Z" fill="#000"/>
<path d="M364.85 37.5 L404.25 37.5M364.5 37.5 L364.5 82.8M351.7 51.5 L391.1 51.5M351.5 51 L351.5 96.3M364.85 82.5 L404.25 82.5M404.5 37.5 L404.5 82.8M351.7 96.5 L391.1 96.5M391.5 51 L391.5 96.3M391.1 51.5 L430.5 51.5M377.95 64.5 L417.35 64.5M377.5 64.5 L377.5 109.8M391.1 96.5 L430.5 96.5M430.5 51 L430.5 96.3M377.95 109.5 L417.35 109.5M417.5 64.5 L417.5 109.8M404.25 82.5 L443.65 82.5M404.5 82.8 L404.5 128.1M391.5 96.3 L391.5 141.6M404.25 128.5 L443.65 128.5M443.5 82.8 L443.5 128.1M391.1 141.5 L430.5 141.5M430.5 96.3 L430.5 141.6M351.5 96.3 L351.5 141.6M338.55 109.5 L377.95 109.5M338.5 109.8 L338.5 155.1M351.7 141.5 L391.1 141.5M338.55 155.5 L377.95 155.5M377.5 109.8 L377.5 155.1M430.5 96.5 L469.9 96.5M417.35 109.5 L456.75 109.5M417.5 109.8 L417.5 155.1M430.5 141.5 L469.9 141.5M469.5 96.3 L469.5 141.6M417.35 155.5 L456.75 155.5M456.5 109.8 L456.5 155.1" fill="none" stroke="#303030" stroke-width="0.68" stroke-dasharray="1.3 0.7"/>
<path d="M364.85 37.5 L351.7 51M364.85 82.8 L351.7 96.3M404.25 37.5 L391.1 51M404.25 82.8 L391.1 96.3M391.1 51 L377.95 64.5M391.1 96.3 L377.95 109.8M430.5 51 L417.35 64.5M430.5 96.3 L417.35 109.8M404.25 128.1 L391.1 141.6M443.65 82.8 L430.5 96.3M443.65 128.1 L430.5 141.6M351.7 96.3 L338.55 109.8M351.7 141.6 L338.55 155.1M391.1 141.6 L377.95 155.1M430.5 141.6 L417.35 155.1M469.9 96.3 L456.75 109.8M469.9 141.6 L456.75 155.1" fill="none" stroke="#222" stroke-width="0.75"/>
<line x1="351.7" y1="96.3" x2="391.1" y2="96.3" stroke="#111" stroke-width="0.9"/>
<line x1="391.1" y1="96.3" x2="391.1" y2="141.6" stroke="#111" stroke-width="0.8"/>
<line x1="390.8" y1="97.2" x2="378.2" y2="64.4" stroke="#555" stroke-width="0.7"/>
<line x1="390.8" y1="97.2" x2="417.4" y2="109.3" stroke="#555" stroke-width="0.7"/>
<line x1="361.8" y1="126.6" x2="338.6" y2="109.3" stroke="#555" stroke-width="0.7"/>
<line x1="361.8" y1="126.6" x2="352.4" y2="141.9" stroke="#555" stroke-width="0.7"/>
<line x1="361.8" y1="126.6" x2="377.6" y2="155.3" stroke="#555" stroke-width="0.7"/>
<line x1="390.8" y1="97.2" x2="404.7" y2="82.6" stroke="#111" stroke-width="1.15"/>
<line x1="361.8" y1="126.6" x2="390.8" y2="97.2" stroke="#333" stroke-width="0.8"/>
<line x1="417.4" y1="109.3" x2="441" y2="126.6" stroke="#555" stroke-width="0.7"/>
<line x1="441" y1="126.6" x2="457" y2="154.7" stroke="#555" stroke-width="0.7"/>
<line x1="441" y1="126.6" x2="469.5" y2="96.4" stroke="#222" stroke-width="1"/>
<line x1="338.6" y1="109.3" x2="324.6" y2="114.3" stroke="#999" stroke-width="0.6"/>
<line x1="338.6" y1="109.3" x2="332.6" y2="133.3" stroke="#999" stroke-width="0.6"/>
<circle cx="378.2" cy="64.4" r="2.95" fill="url(#gBlue)"/>
<circle cx="404.7" cy="82.6" r="2.95" fill="url(#gBlue)"/>
<circle cx="352.4" cy="141.9" r="2.95" fill="url(#gBlue)"/>
<circle cx="377.6" cy="155.3" r="2.95" fill="url(#gBlue)"/>
<circle cx="469.5" cy="96.4" r="2.95" fill="url(#gBlue)"/>
<circle cx="457" cy="109.2" r="2.95" fill="url(#gBlue)"/>
<circle cx="457" cy="154.7" r="2.95" fill="url(#gBlue)"/>
<line x1="380.2" y1="64.9" x2="392" y2="67.99" stroke="#168a1e" stroke-width="1.4"/>
<path d="M397.4 69.4 L387.63 71.19 L392 67.99 L389.76 63.06 Z" fill="#168a1e"/>
<line x1="406.2" y1="84.1" x2="414.51" y2="92.2" stroke="#168a1e" stroke-width="1.4"/>
<path d="M418.5 96.1 L409.13 92.82 L414.51 92.2 L414.99 86.81 Z" fill="#168a1e"/>
<line x1="387.8" y1="95.9" x2="377.33" y2="91.4" stroke="#ff0c0c" stroke-width="1.4"/>
<path d="M372.2 89.2 L382.13 88.89 L377.33 91.4 L378.81 96.61 Z" fill="#ff0c0c"/>
<line x1="360.8" y1="127.9" x2="352.51" y2="138.16" stroke="#ff0c0c" stroke-width="1.4"/>
<path d="M349 142.5 L351.39 132.86 L352.51 138.16 L357.92 138.14 Z" fill="#ff0c0c"/>
<line x1="444" y1="128.7" x2="451.83" y2="134.2" stroke="#0c0cfa" stroke-width="1.4"/>
<path d="M456.4 137.4 L446.62 135.67 L451.83 134.2 L451.44 128.79 Z" fill="#0c0cfa"/>
<line x1="350.2" y1="140.1" x2="342.95" y2="132.85" stroke="#168a1e" stroke-width="1.4"/>
<path d="M339 128.9 L348.33 132.29 L342.95 132.85 L342.39 138.23 Z" fill="#168a1e"/>
<line x1="375.6" y1="154.5" x2="363.84" y2="150.21" stroke="#168a1e" stroke-width="1.4"/>
<path d="M358.6 148.3 L368.49 147.44 L363.84 150.21 L365.62 155.33 Z" fill="#168a1e"/>
<circle cx="390.8" cy="97.2" r="5.2" fill="url(#gGray)"/>
<circle cx="361.8" cy="126.6" r="5.2" fill="url(#gGray)"/>
<circle cx="338.6" cy="109.3" r="5.2" fill="url(#gGray)"/>
<circle cx="441" cy="126.6" r="5.2" fill="url(#gGray)"/>
<circle cx="417.4" cy="109.3" r="6.3" fill="url(#gOr)"/>
<line x1="420.6" y1="110.9" x2="431.69" y2="116.34" stroke="#ff0c0c" stroke-width="1.4"/>
<path d="M436.7 118.8 L426.77 118.61 L431.69 116.34 L430.47 111.06 Z" fill="#ff0c0c"/>
<line x1="415.2" y1="106.9" x2="407.74" y2="101.55" stroke="#0c0cfa" stroke-width="1.4"/>
<path d="M403.2 98.3 L412.96 100.13 L407.74 101.55 L408.07 106.96 Z" fill="#0c0cfa"/>
<text x="370.9" y="61.4" font-size="13.6" fill="#000" text-anchor="middle">H</text>
<text x="397" y="107.6" font-size="12.2" fill="#000" text-anchor="middle">α</text>
<text x="372" y="131.6" font-size="13.8" fill="#000" text-anchor="middle">β</text>
<text x="410.1" y="124" font-size="13.6" fill="#000" text-anchor="middle">S</text>
<text x="335.3" y="101.9" font-size="13.6" fill="#000" text-anchor="middle">C</text>
<text x="323.8" y="149.6" font-size="13.6" fill="#000" text-anchor="middle">CH<tspan font-size="8.4" dy="2.6">2</tspan></text>
<text x="323" y="162.1" font-size="13.3" fill="#000" text-anchor="middle">side</text>
<path d="M555.75 37.5 L595.15 37.5M555.5 37.5 L555.5 82.8M542.6 51.5 L582 51.5M542.5 51 L542.5 96.3M555.75 82.5 L595.15 82.5M595.5 37.5 L595.5 82.8M542.6 96.5 L582 96.5M582.5 51 L582.5 96.3M582 51.5 L621.4 51.5M568.85 64.5 L608.25 64.5M568.5 64.5 L568.5 109.8M582 96.5 L621.4 96.5M621.5 51 L621.5 96.3M568.85 109.5 L608.25 109.5M608.5 64.5 L608.5 109.8M595.15 82.5 L634.55 82.5M595.5 82.8 L595.5 128.1M582.5 96.3 L582.5 141.6M595.15 128.5 L634.55 128.5M634.5 82.8 L634.5 128.1M582 141.5 L621.4 141.5M621.5 96.3 L621.5 141.6M542.5 96.3 L542.5 141.6M529.45 109.5 L568.85 109.5M529.5 109.8 L529.5 155.1M542.6 141.5 L582 141.5M529.45 155.5 L568.85 155.5M568.5 109.8 L568.5 155.1" fill="none" stroke="#303030" stroke-width="0.68" stroke-dasharray="1.3 0.7"/>
<path d="M555.75 37.5 L542.6 51M555.75 82.8 L542.6 96.3M595.15 37.5 L582 51M595.15 82.8 L582 96.3M582 51 L568.85 64.5M582 96.3 L568.85 109.8M621.4 51 L608.25 64.5M621.4 96.3 L608.25 109.8M595.15 128.1 L582 141.6M634.55 82.8 L621.4 96.3M634.55 128.1 L621.4 141.6M542.6 96.3 L529.45 109.8M542.6 141.6 L529.45 155.1M582 141.6 L568.85 155.1" fill="none" stroke="#222" stroke-width="0.75"/>
<line x1="542.6" y1="96.3" x2="582" y2="96.3" stroke="#111" stroke-width="0.9"/>
<line x1="582" y1="96.3" x2="582" y2="141.6" stroke="#111" stroke-width="0.8"/>
<line x1="581.7" y1="97.2" x2="569.1" y2="64.4" stroke="#555" stroke-width="0.7"/>
<line x1="581.7" y1="97.2" x2="608.3" y2="109.3" stroke="#555" stroke-width="0.7"/>
<line x1="552.7" y1="126.6" x2="529.5" y2="109.3" stroke="#555" stroke-width="0.7"/>
<line x1="552.7" y1="126.6" x2="543.3" y2="141.9" stroke="#555" stroke-width="0.7"/>
<line x1="552.7" y1="126.6" x2="568.5" y2="155.3" stroke="#555" stroke-width="0.7"/>
<line x1="581.7" y1="97.2" x2="595.6" y2="82.6" stroke="#111" stroke-width="1.15"/>
<line x1="552.7" y1="126.6" x2="581.7" y2="97.2" stroke="#333" stroke-width="0.8"/>
<line x1="608.3" y1="109.3" x2="623.5" y2="89.8" stroke="#333" stroke-width="0.85"/>
<line x1="529.5" y1="109.3" x2="515.5" y2="114.3" stroke="#999" stroke-width="0.6"/>
<line x1="529.5" y1="109.3" x2="523.5" y2="133.3" stroke="#999" stroke-width="0.6"/>
<circle cx="569.1" cy="64.4" r="2.95" fill="url(#gBlue)"/>
<circle cx="595.6" cy="82.6" r="2.95" fill="url(#gBlue)"/>
<circle cx="543.3" cy="141.9" r="2.95" fill="url(#gBlue)"/>
<circle cx="568.5" cy="155.3" r="2.95" fill="url(#gBlue)"/>
<circle cx="623.5" cy="89.8" r="2.95" fill="url(#gBlue)"/>
<line x1="571.1" y1="64.9" x2="582.9" y2="67.99" stroke="#168a1e" stroke-width="1.4"/>
<path d="M588.3 69.4 L578.53 71.19 L582.9 67.99 L580.66 63.06 Z" fill="#168a1e"/>
<line x1="597.1" y1="84.1" x2="605.41" y2="92.2" stroke="#168a1e" stroke-width="1.4"/>
<path d="M609.4 96.1 L600.03 92.82 L605.41 92.2 L605.89 86.81 Z" fill="#168a1e"/>
<line x1="578.7" y1="95.9" x2="568.23" y2="91.4" stroke="#ff0c0c" stroke-width="1.4"/>
<path d="M563.1 89.2 L573.03 88.89 L568.23 91.4 L569.71 96.61 Z" fill="#ff0c0c"/>
<line x1="551.7" y1="127.9" x2="543.41" y2="138.16" stroke="#ff0c0c" stroke-width="1.4"/>
<path d="M539.9 142.5 L542.29 132.86 L543.41 138.16 L548.82 138.14 Z" fill="#ff0c0c"/>
<line x1="541.1" y1="140.1" x2="533.85" y2="132.85" stroke="#168a1e" stroke-width="1.4"/>
<path d="M529.9 128.9 L539.23 132.29 L533.85 132.85 L533.29 138.23 Z" fill="#168a1e"/>
<line x1="566.5" y1="154.5" x2="554.74" y2="150.21" stroke="#168a1e" stroke-width="1.4"/>
<path d="M549.5 148.3 L559.39 147.44 L554.74 150.21 L556.52 155.33 Z" fill="#168a1e"/>
<circle cx="581.7" cy="97.2" r="5.2" fill="url(#gGray)"/>
<circle cx="552.7" cy="126.6" r="5.2" fill="url(#gGray)"/>
<circle cx="529.5" cy="109.3" r="5.2" fill="url(#gGray)"/>
<circle cx="608.3" cy="109.3" r="6.3" fill="url(#gOr)"/>
<line x1="611.5" y1="110.9" x2="622.59" y2="116.34" stroke="#ff0c0c" stroke-width="1.4"/>
<path d="M627.6 118.8 L617.67 118.61 L622.59 116.34 L621.37 111.06 Z" fill="#ff0c0c"/>
<text x="561.8" y="61.4" font-size="13.6" fill="#000" text-anchor="middle">H</text>
<text x="587.9" y="107.6" font-size="12.2" fill="#000" text-anchor="middle">α</text>
<text x="562.9" y="131.6" font-size="13.8" fill="#000" text-anchor="middle">β</text>
<text x="601" y="124" font-size="13.6" fill="#000" text-anchor="middle">S</text>
<text x="526.2" y="101.9" font-size="13.6" fill="#000" text-anchor="middle">C</text>
<text x="514.7" y="149.6" font-size="13.6" fill="#000" text-anchor="middle">CH<tspan font-size="8.4" dy="2.6">2</tspan></text>
<text x="513.9" y="162.1" font-size="13.3" fill="#000" text-anchor="middle">side</text>
<path d="M363.15 264.5 L402.55 264.5M363.5 264.4 L363.5 309.7M350 277.5 L389.4 277.5M350.5 277.9 L350.5 323.2M363.15 309.5 L402.55 309.5M402.5 264.4 L402.5 309.7M350 323.5 L389.4 323.5M389.5 277.9 L389.5 323.2M389.4 277.5 L428.8 277.5M376.25 291.5 L415.65 291.5M376.5 291.4 L376.5 336.7M389.4 323.5 L428.8 323.5M428.5 277.9 L428.5 323.2M376.25 336.5 L415.65 336.5M415.5 291.4 L415.5 336.7M402.55 309.5 L441.95 309.5M402.5 309.7 L402.5 355M389.5 323.2 L389.5 368.5M402.55 355.5 L441.95 355.5M441.5 309.7 L441.5 355M389.4 368.5 L428.8 368.5M428.5 323.2 L428.5 368.5M350.5 323.2 L350.5 368.5M336.85 336.5 L376.25 336.5M336.5 336.7 L336.5 382M350 368.5 L389.4 368.5M336.85 382.5 L376.25 382.5M376.5 336.7 L376.5 382M428.8 323.5 L468.2 323.5M415.65 336.5 L455.05 336.5M415.5 336.7 L415.5 382M428.8 368.5 L468.2 368.5M468.5 323.2 L468.5 368.5M415.65 382.5 L455.05 382.5M455.5 336.7 L455.5 382" fill="none" stroke="#303030" stroke-width="0.68" stroke-dasharray="1.3 0.7"/>
<path d="M363.15 264.4 L350 277.9M363.15 309.7 L350 323.2M402.55 264.4 L389.4 277.9M402.55 309.7 L389.4 323.2M389.4 277.9 L376.25 291.4M389.4 323.2 L376.25 336.7M428.8 277.9 L415.65 291.4M428.8 323.2 L415.65 336.7M402.55 355 L389.4 368.5M441.95 309.7 L428.8 323.2M441.95 355 L428.8 368.5M350 323.2 L336.85 336.7M350 368.5 L336.85 382M389.4 368.5 L376.25 382M428.8 368.5 L415.65 382M468.2 323.2 L455.05 336.7M468.2 368.5 L455.05 382" fill="none" stroke="#222" stroke-width="0.75"/>
<line x1="350" y1="323.2" x2="389.4" y2="323.2" stroke="#111" stroke-width="0.9"/>
<line x1="389.4" y1="323.2" x2="389.4" y2="368.5" stroke="#111" stroke-width="0.8"/>
<line x1="389.7" y1="323.1" x2="376.5" y2="291.3" stroke="#555" stroke-width="0.7"/>
<line x1="389.7" y1="323.1" x2="415.7" y2="336.2" stroke="#555" stroke-width="0.7"/>
<line x1="362.1" y1="354.1" x2="336.9" y2="336.2" stroke="#555" stroke-width="0.7"/>
<line x1="362.1" y1="354.1" x2="352.2" y2="368.3" stroke="#555" stroke-width="0.7"/>
<line x1="362.1" y1="354.1" x2="375.9" y2="382.2" stroke="#555" stroke-width="0.7"/>
<line x1="389.7" y1="323.1" x2="403" y2="309.5" stroke="#111" stroke-width="1.15"/>
<line x1="362.1" y1="354.1" x2="389.7" y2="323.1" stroke="#333" stroke-width="0.8"/>
<line x1="415.7" y1="336.2" x2="441.4" y2="354.7" stroke="#555" stroke-width="0.7"/>
<line x1="441.4" y1="354.7" x2="455.3" y2="381.6" stroke="#555" stroke-width="0.7"/>
<line x1="441.4" y1="354.7" x2="467.8" y2="323.3" stroke="#222" stroke-width="1"/>
<line x1="375.9" y1="382.2" x2="353.9" y2="392.7" stroke="#999" stroke-width="0.6"/>
<line x1="375.9" y1="382.2" x2="380.9" y2="395.2" stroke="#999" stroke-width="0.6"/>
<circle cx="376.5" cy="291.3" r="2.95" fill="url(#gBlue)"/>
<circle cx="403" cy="309.5" r="2.95" fill="url(#gBlue)"/>
<circle cx="352.2" cy="368.3" r="2.95" fill="url(#gBlue)"/>
<circle cx="336.9" cy="336.2" r="2.95" fill="url(#gBlue)"/>
<circle cx="467.8" cy="323.3" r="2.95" fill="url(#gBlue)"/>
<circle cx="455.3" cy="336.1" r="2.95" fill="url(#gBlue)"/>
<circle cx="455.3" cy="381.6" r="2.95" fill="url(#gBlue)"/>
<line x1="378.5" y1="291.8" x2="390.3" y2="294.89" stroke="#168a1e" stroke-width="1.4"/>
<path d="M395.7 296.3 L385.93 298.09 L390.3 294.89 L388.06 289.96 Z" fill="#168a1e"/>
<line x1="404.5" y1="311" x2="412.81" y2="319.1" stroke="#168a1e" stroke-width="1.4"/>
<path d="M416.8 323 L407.43 319.72 L412.81 319.1 L413.29 313.71 Z" fill="#168a1e"/>
<line x1="386.7" y1="321.8" x2="376.23" y2="317.3" stroke="#ff0c0c" stroke-width="1.4"/>
<path d="M371.1 315.1 L381.03 314.79 L376.23 317.3 L377.71 322.51 Z" fill="#ff0c0c"/>
<line x1="361.1" y1="355.4" x2="351.87" y2="365.48" stroke="#ff0c0c" stroke-width="1.4"/>
<path d="M348.1 369.6 L351.08 360.13 L351.87 365.48 L357.28 365.8 Z" fill="#ff0c0c"/>
<line x1="444.4" y1="356.8" x2="452.23" y2="362.3" stroke="#0c0cfa" stroke-width="1.4"/>
<path d="M456.8 365.5 L447.02 363.77 L452.23 362.3 L451.84 356.89 Z" fill="#0c0cfa"/>
<line x1="336.1" y1="334.2" x2="332.5" y2="325.37" stroke="#168a1e" stroke-width="1.4"/>
<path d="M330.4 320.2 L337.68 326.95 L332.5 325.37 L329.9 330.12 Z" fill="#168a1e"/>
<line x1="350.7" y1="366.8" x2="342.95" y2="359.44" stroke="#168a1e" stroke-width="1.4"/>
<path d="M338.9 355.6 L348.32 358.75 L342.95 359.44 L342.54 364.84 Z" fill="#168a1e"/>
<circle cx="389.7" cy="323.1" r="5.2" fill="url(#gGray)"/>
<circle cx="362.1" cy="354.1" r="5.2" fill="url(#gGray)"/>
<circle cx="375.9" cy="382.2" r="5.2" fill="url(#gGray)"/>
<circle cx="441.4" cy="354.7" r="5.2" fill="url(#gGray)"/>
<circle cx="415.7" cy="336.2" r="6.3" fill="url(#gOr)"/>
<line x1="418.9" y1="337.8" x2="429.99" y2="343.24" stroke="#ff0c0c" stroke-width="1.4"/>
<path d="M435 345.7 L425.07 345.51 L429.99 343.24 L428.77 337.96 Z" fill="#ff0c0c"/>
<line x1="413.5" y1="333.8" x2="406.04" y2="328.45" stroke="#0c0cfa" stroke-width="1.4"/>
<path d="M401.5 325.2 L411.26 327.03 L406.04 328.45 L406.37 333.86 Z" fill="#0c0cfa"/>
<text x="369.2" y="288.3" font-size="13.6" fill="#000" text-anchor="middle">H</text>
<text x="395.9" y="333.5" font-size="12.2" fill="#000" text-anchor="middle">α</text>
<text x="372.3" y="359.1" font-size="13.8" fill="#000" text-anchor="middle">β</text>
<text x="408.4" y="350.9" font-size="13.6" fill="#000" text-anchor="middle">S</text>
<text x="387.7" y="391" font-size="13.6" fill="#000" text-anchor="middle">C</text>
<text x="321.9" y="376.5" font-size="13.6" fill="#000" text-anchor="middle">CH<tspan font-size="8.4" dy="2.6">2</tspan></text>
<text x="320.5" y="388.7" font-size="13" fill="#000" text-anchor="middle">side</text>
<path d="M554.15 264.5 L593.55 264.5M554.5 264.4 L554.5 309.7M541 277.5 L580.4 277.5M541.5 277.9 L541.5 323.2M554.15 309.5 L593.55 309.5M593.5 264.4 L593.5 309.7M541 323.5 L580.4 323.5M580.5 277.9 L580.5 323.2M580.4 277.5 L619.8 277.5M567.25 291.5 L606.65 291.5M567.5 291.4 L567.5 336.7M580.4 323.5 L619.8 323.5M619.5 277.9 L619.5 323.2M567.25 336.5 L606.65 336.5M606.5 291.4 L606.5 336.7M593.55 309.5 L632.95 309.5M593.5 309.7 L593.5 355M580.5 323.2 L580.5 368.5M593.55 355.5 L632.95 355.5M632.5 309.7 L632.5 355M580.4 368.5 L619.8 368.5M619.5 323.2 L619.5 368.5M541.5 323.2 L541.5 368.5M527.85 336.5 L567.25 336.5M527.5 336.7 L527.5 382M541 368.5 L580.4 368.5M527.85 382.5 L567.25 382.5M567.5 336.7 L567.5 382" fill="none" stroke="#303030" stroke-width="0.68" stroke-dasharray="1.3 0.7"/>
<path d="M554.15 264.4 L541 277.9M554.15 309.7 L541 323.2M593.55 264.4 L580.4 277.9M593.55 309.7 L580.4 323.2M580.4 277.9 L567.25 291.4M580.4 323.2 L567.25 336.7M619.8 277.9 L606.65 291.4M619.8 323.2 L606.65 336.7M593.55 355 L580.4 368.5M632.95 309.7 L619.8 323.2M632.95 355 L619.8 368.5M541 323.2 L527.85 336.7M541 368.5 L527.85 382M580.4 368.5 L567.25 382" fill="none" stroke="#222" stroke-width="0.75"/>
<line x1="541" y1="323.2" x2="580.4" y2="323.2" stroke="#111" stroke-width="0.9"/>
<line x1="580.4" y1="323.2" x2="580.4" y2="368.5" stroke="#111" stroke-width="0.8"/>
<line x1="580.7" y1="323.1" x2="567.5" y2="291.3" stroke="#555" stroke-width="0.7"/>
<line x1="580.7" y1="323.1" x2="606.7" y2="336.2" stroke="#555" stroke-width="0.7"/>
<line x1="553.1" y1="354.1" x2="527.9" y2="336.2" stroke="#555" stroke-width="0.7"/>
<line x1="553.1" y1="354.1" x2="543.2" y2="368.3" stroke="#555" stroke-width="0.7"/>
<line x1="553.1" y1="354.1" x2="566.9" y2="382.2" stroke="#555" stroke-width="0.7"/>
<line x1="580.7" y1="323.1" x2="594" y2="309.5" stroke="#111" stroke-width="1.15"/>
<line x1="553.1" y1="354.1" x2="580.7" y2="323.1" stroke="#333" stroke-width="0.8"/>
<line x1="606.7" y1="336.2" x2="618.9" y2="318.5" stroke="#333" stroke-width="0.85"/>
<line x1="566.9" y1="382.2" x2="544.9" y2="392.7" stroke="#999" stroke-width="0.6"/>
<line x1="566.9" y1="382.2" x2="571.9" y2="395.2" stroke="#999" stroke-width="0.6"/>
<circle cx="567.5" cy="291.3" r="2.95" fill="url(#gBlue)"/>
<circle cx="594" cy="309.5" r="2.95" fill="url(#gBlue)"/>
<circle cx="543.2" cy="368.3" r="2.95" fill="url(#gBlue)"/>
<circle cx="527.9" cy="336.2" r="2.95" fill="url(#gBlue)"/>
<circle cx="618.9" cy="318.5" r="2.95" fill="url(#gBlue)"/>
<line x1="569.5" y1="291.8" x2="581.3" y2="294.89" stroke="#168a1e" stroke-width="1.4"/>
<path d="M586.7 296.3 L576.93 298.09 L581.3 294.89 L579.06 289.96 Z" fill="#168a1e"/>
<line x1="595.5" y1="311" x2="603.81" y2="319.1" stroke="#168a1e" stroke-width="1.4"/>
<path d="M607.8 323 L598.43 319.72 L603.81 319.1 L604.29 313.71 Z" fill="#168a1e"/>
<line x1="577.7" y1="321.8" x2="567.23" y2="317.3" stroke="#ff0c0c" stroke-width="1.4"/>
<path d="M562.1 315.1 L572.03 314.79 L567.23 317.3 L568.71 322.51 Z" fill="#ff0c0c"/>
<line x1="552.1" y1="355.4" x2="542.87" y2="365.48" stroke="#ff0c0c" stroke-width="1.4"/>
<path d="M539.1 369.6 L542.08 360.13 L542.87 365.48 L548.28 365.8 Z" fill="#ff0c0c"/>
<line x1="527.1" y1="334.2" x2="523.5" y2="325.37" stroke="#168a1e" stroke-width="1.4"/>
<path d="M521.4 320.2 L528.68 326.95 L523.5 325.37 L520.9 330.12 Z" fill="#168a1e"/>
<line x1="541.7" y1="366.8" x2="533.95" y2="359.44" stroke="#168a1e" stroke-width="1.4"/>
<path d="M529.9 355.6 L539.32 358.75 L533.95 359.44 L533.54 364.84 Z" fill="#168a1e"/>
<circle cx="580.7" cy="323.1" r="5.2" fill="url(#gGray)"/>
<circle cx="553.1" cy="354.1" r="5.2" fill="url(#gGray)"/>
<circle cx="566.9" cy="382.2" r="5.2" fill="url(#gGray)"/>
<circle cx="606.7" cy="336.2" r="6.3" fill="url(#gOr)"/>
<line x1="609.9" y1="337.8" x2="620.99" y2="343.24" stroke="#ff0c0c" stroke-width="1.4"/>
<path d="M626 345.7 L616.07 345.51 L620.99 343.24 L619.77 337.96 Z" fill="#ff0c0c"/>
<text x="560.2" y="288.3" font-size="13.6" fill="#000" text-anchor="middle">H</text>
<text x="586.9" y="333.5" font-size="12.2" fill="#000" text-anchor="middle">α</text>
<text x="563.3" y="359.1" font-size="13.8" fill="#000" text-anchor="middle">β</text>
<text x="599.4" y="350.9" font-size="13.6" fill="#000" text-anchor="middle">S</text>
<text x="578.7" y="391" font-size="13.6" fill="#000" text-anchor="middle">C</text>
<text x="512.9" y="376.5" font-size="13.6" fill="#000" text-anchor="middle">CH<tspan font-size="8.4" dy="2.6">2</tspan></text>
<text x="511.5" y="388.7" font-size="13" fill="#000" text-anchor="middle">side</text>
<text x="463.4" y="76.4" font-size="13" fill="#000" text-anchor="start">CH<tspan font-size="8.5" dy="2.5">3</tspan></text>
<text x="463.8" y="89.4" font-size="13" fill="#000" text-anchor="start">side</text>
<text x="461.5" y="302.6" font-size="13" fill="#000" text-anchor="start">CH<tspan font-size="8.5" dy="2.5">3</tspan></text>
<text x="462" y="315.2" font-size="13" fill="#000" text-anchor="start">side</text>
<text x="640.2" y="132.9" font-size="13.45" fill="#000" text-anchor="start">Missing</text>
<text x="637.7" y="149.2" font-size="13.1" fill="#000" text-anchor="start">CH<tspan font-size="8.5" dy="2.5">3</tspan><tspan dy="-2.5"> side</tspan></text>
<text x="640.2" y="290.4" font-size="13.45" fill="#000" text-anchor="start">Missing</text>
<text x="637.7" y="306.5" font-size="13.1" fill="#000" text-anchor="start">CH<tspan font-size="8.5" dy="2.5">3</tspan><tspan dy="-2.5"> side</tspan></text>
</g>
</svg>
</body></html>
